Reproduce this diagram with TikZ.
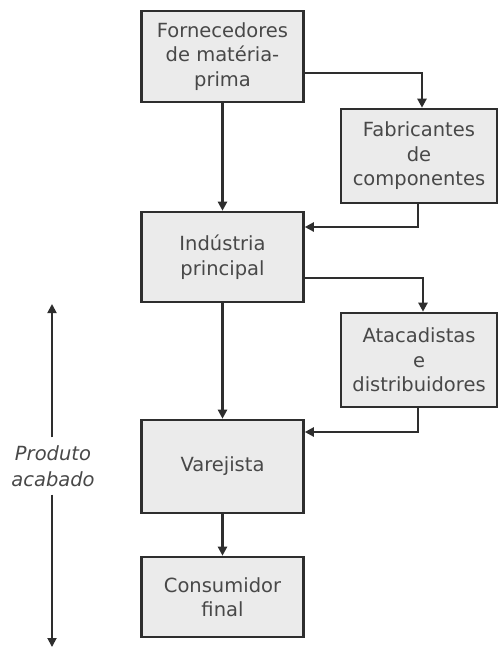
\documentclass[tikz,border=0pt]{standalone}
\usepackage{fontspec}
\setmainfont{DejaVu Sans}
\usetikzlibrary{arrows.meta,calc}
\definecolor{boxfill}{HTML}{EBEBEB}
\definecolor{boxline}{HTML}{2E2E2E}
\definecolor{txt}{HTML}{484848}
\begin{document}
\begin{tikzpicture}[x=1pt,y=-1pt,
  box/.style={draw=boxline,fill=boxfill,line width=2.6pt,inner sep=0pt,
    align=center,text=txt,font=\fontsize{19.5}{24.5}\selectfont},
  conn/.style={draw=boxline,line width=2.4pt,
    -{Triangle[length=9pt,width=9pt]}}]
\useasboundingbox (0,0) rectangle (501,649);
\node[box,minimum width=162pt,minimum height=91pt] (b1) at (222.5,56.5) {Fornecedores\\de matéria-\\prima};
\node[box,minimum width=156pt,minimum height=94pt] (b2) at (419,156) {Fabricantes\\de\\componentes};
\node[box,minimum width=162pt,minimum height=90pt] (b3) at (222.5,257) {Indústria\\principal};
\node[box,minimum width=156pt,minimum height=94pt] (b4) at (419,360) {Atacadistas\\e\\distribuidores};
\node[box,minimum width=162pt,minimum height=93pt] (b5) at (222.5,466.5) {Varejista};
\node[box,minimum width=162pt,minimum height=80pt] (b6) at (222.5,597) {Consumidor\\final};
\node[align=center,text=txt,font=\itshape\fontsize{19.5}{26}\selectfont,
  minimum height=57pt,inner sep=0pt] (pa) at (53,466) {Produto\\acabado};
\coordinate (pat) at (52,304);
\coordinate (pab) at (52,647);
\coordinate (c1) at (422,73);
\coordinate (c2) at (418,227);
\coordinate (c3) at (423,278);
\coordinate (c4) at (418,432);
\draw[conn] (b1.east |- c1) -- (c1) -- (c1 |- b2.north);
\draw[conn] (b1.south) -- (b3.north);
\draw[conn] (c2 |- b2.south) -- (c2) -- (b3.east |- c2);
\draw[conn] (b3.east |- c3) -- (c3) -- (c3 |- b4.north);
\draw[conn] (b3.south) -- (b5.north);
\draw[conn] (c4 |- b4.south) -- (c4) -- (b5.east |- c4);
\draw[conn] (b5.south) -- (b6.north);
\draw[conn,line width=1.8pt] (pat |- pa.north) -- (pat);
\draw[conn,line width=1.8pt] (pab |- pa.south) -- (pab);
\end{tikzpicture}
\end{document}
